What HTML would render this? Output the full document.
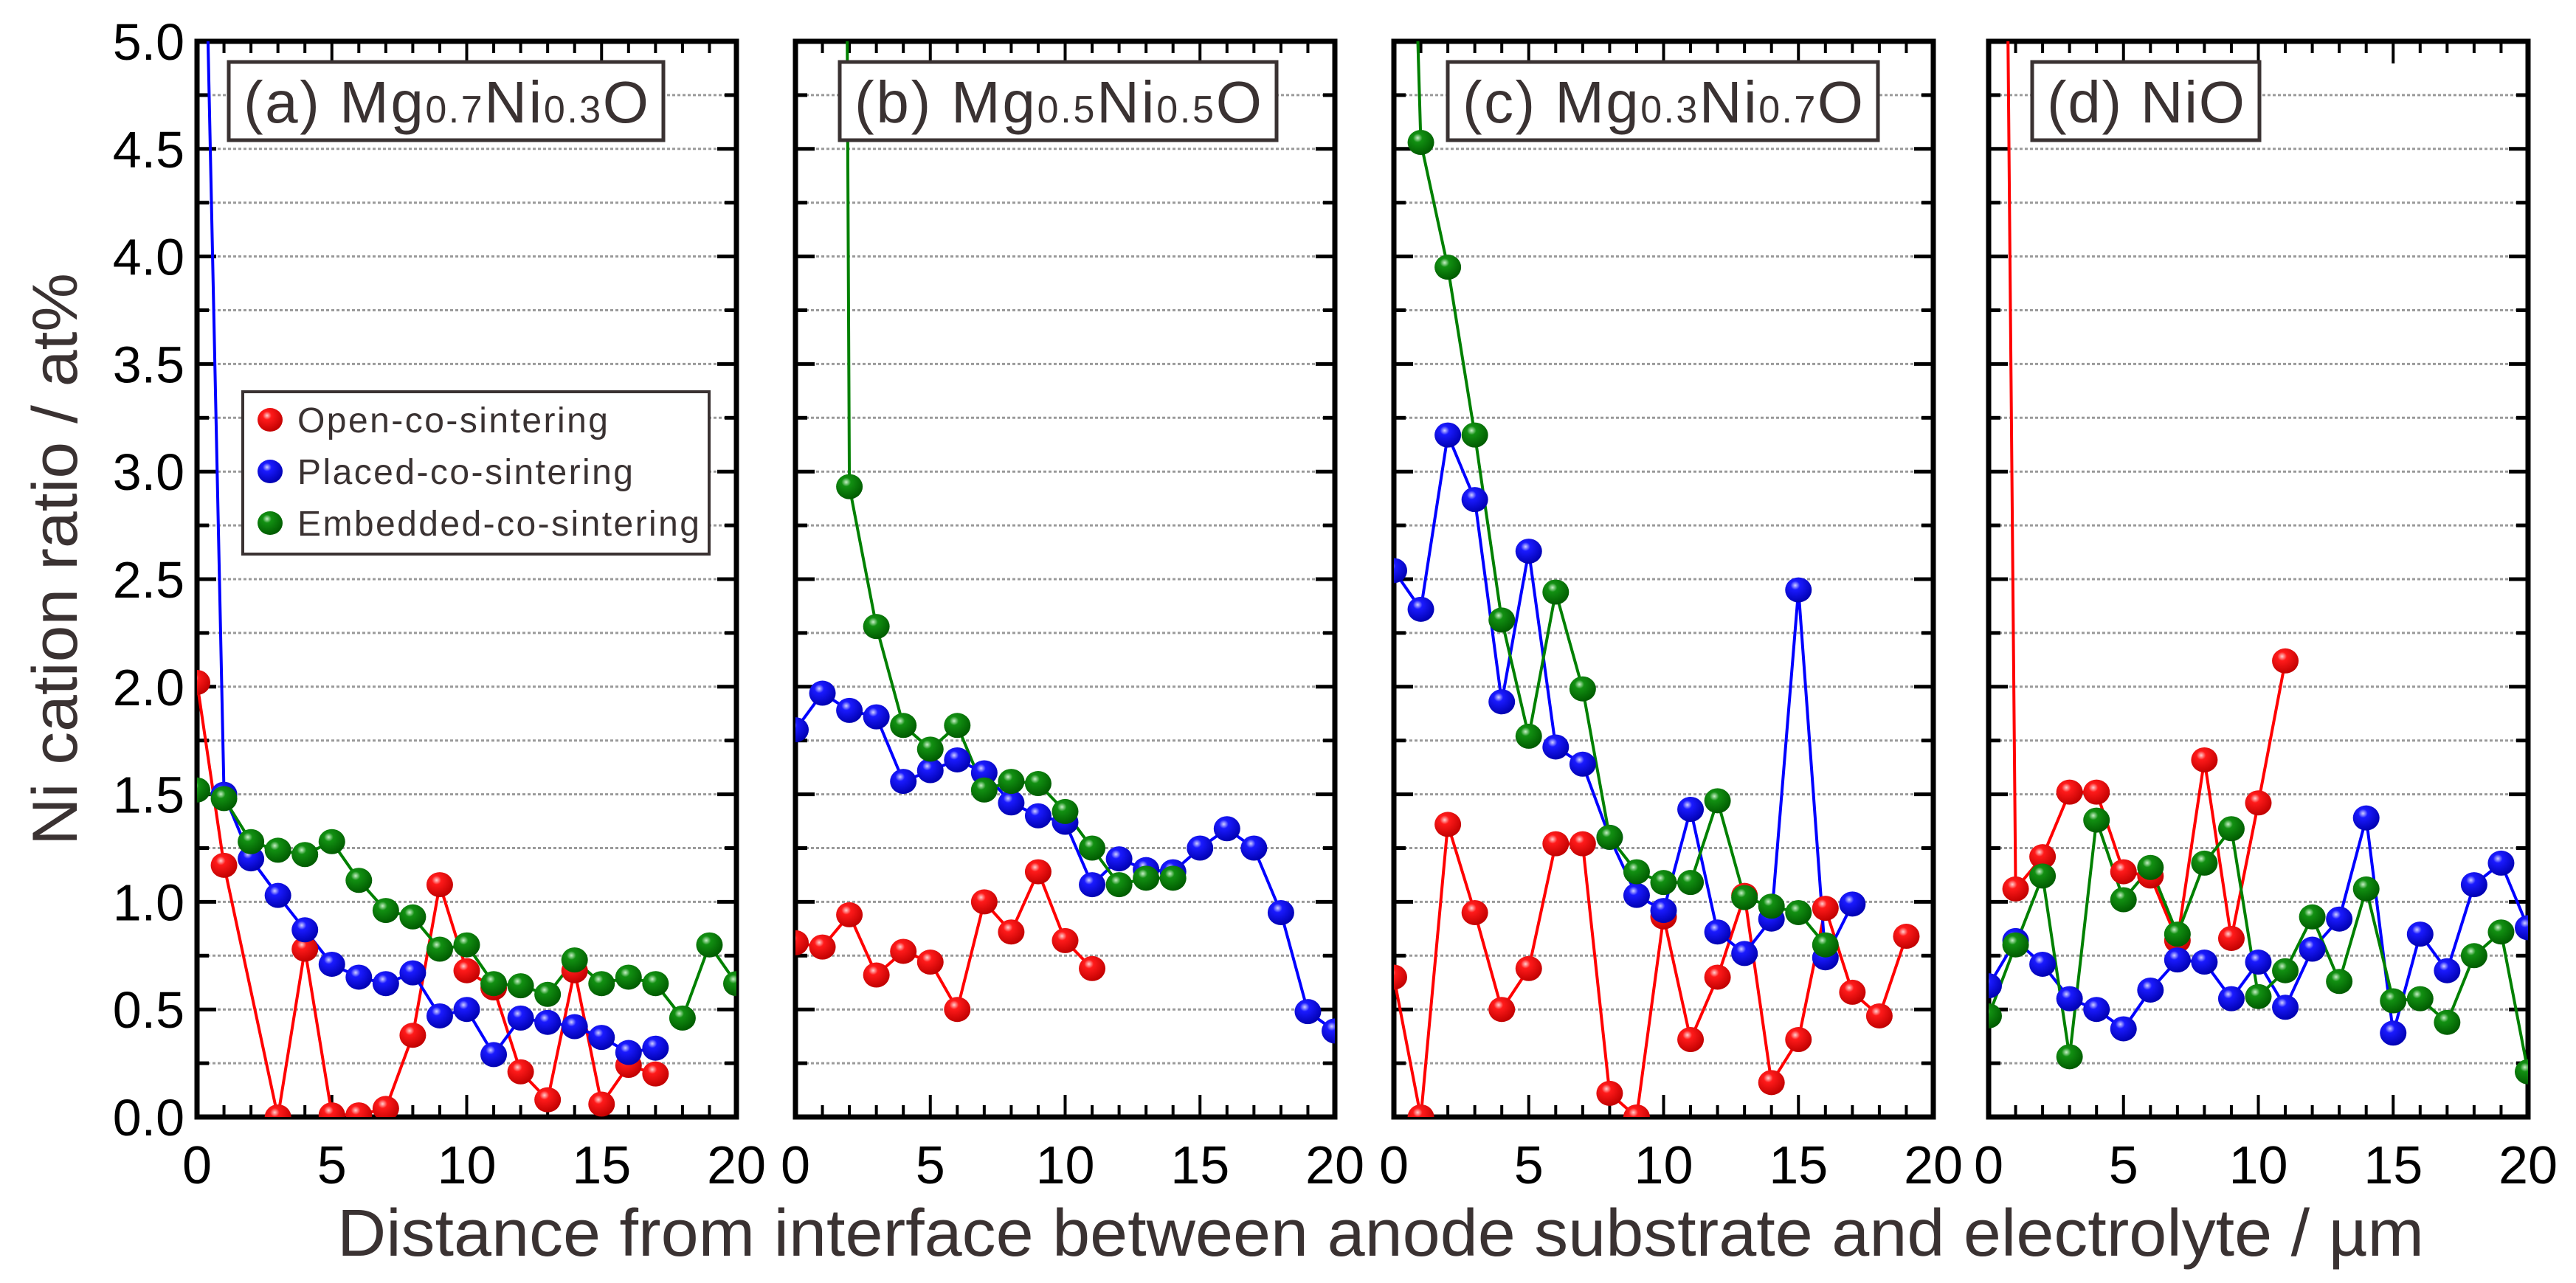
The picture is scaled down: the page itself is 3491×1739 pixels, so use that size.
<!DOCTYPE html>
<html><head><meta charset="utf-8"><style>
html,body{margin:0;padding:0;background:#fff;}
svg{display:block;font-family:"Liberation Sans",Arial,sans-serif;}
</style></head><body>
<svg id="chart" width="3491" height="1739" viewBox="0 0 3491 1739" xmlns="http://www.w3.org/2000/svg">
<defs>
<radialGradient id="gr" cx="0.38" cy="0.32" r="0.7"><stop offset="0" stop-color="#ffd0d0"/><stop offset="0.25" stop-color="#ff1a1a"/><stop offset="1" stop-color="#c00000"/></radialGradient>
<radialGradient id="gb" cx="0.38" cy="0.32" r="0.7"><stop offset="0" stop-color="#d0d0ff"/><stop offset="0.25" stop-color="#1a1aff"/><stop offset="1" stop-color="#0000b0"/></radialGradient>
<radialGradient id="gg" cx="0.38" cy="0.32" r="0.7"><stop offset="0" stop-color="#c8f0c8"/><stop offset="0.25" stop-color="#129012"/><stop offset="1" stop-color="#005a00"/></radialGradient>
</defs>
<g id="root"></g>
<text x="0" y="0" transform="translate(104,758) rotate(-90)" text-anchor="middle" font-size="86" fill="#3a3232" textLength="776" lengthAdjust="spacingAndGlyphs">Ni cation ratio / at%</text>
<text x="1871" y="1702" text-anchor="middle" font-size="90" fill="#3a3232" textLength="2828" lengthAdjust="spacingAndGlyphs">Distance from interface between anode substrate and electrolyte / µm</text>
</svg>
<script>
const xTicks = [0, 5, 10, 15, 20];
const yTickLabels = ["0.0","0.5","1.0","1.5","2.0","2.5","3.0","3.5","4.0","4.5","5.0"];
const seriesNames = ["Open-co-sintering","Placed-co-sintering","Embedded-co-sintering"];
const panelTitles = ["(a) Mg|0.7|Ni|0.3|O","(b) Mg|0.5|Ni|0.5|O","(c) Mg|0.3|Ni|0.7|O","(d) NiO"];
// values indexed by distance 0..20 (null = no point)
const aRed   = [2.02,1.17,null,0.0,0.78,0.01,0.01,0.04,0.38,1.08,0.68,0.60,0.21,0.08,0.68,0.06,0.24,0.20];
const aBlue  = [7.4,1.50,1.20,1.03,0.87,0.71,0.65,0.62,0.67,0.47,0.50,0.29,0.46,0.44,0.42,0.37,0.30,0.32];
const aGreen = [1.52,1.48,1.28,1.24,1.22,1.28,1.10,0.96,0.93,0.78,0.80,0.62,0.61,0.57,0.73,0.62,0.65,0.62,0.46,0.80,0.62];
const bRed   = [0.81,0.79,0.94,0.66,0.77,0.72,0.50,1.00,0.86,1.14,0.82,0.69];
const bBlue  = [1.80,1.97,1.89,1.86,1.56,1.61,1.66,1.60,1.46,1.40,1.37,1.08,1.20,1.15,1.14,1.25,1.34,1.25,0.95,0.49,0.40];
const bGreen = [null,29,2.93,2.28,1.82,1.71,1.82,1.52,1.56,1.55,1.42,1.25,1.08,1.11,1.11];
const cRed   = [0.65,0.0,1.36,0.95,0.50,0.69,1.27,1.27,0.11,0.0,0.93,0.36,0.65,1.03,0.16,0.36,0.97,0.58,0.47,0.84];
const cBlue  = [2.54,2.36,3.17,2.87,1.93,2.63,1.72,1.64,1.30,1.03,0.96,1.43,0.86,0.76,0.92,2.45,0.74,0.99];
const cGreen = [8.8,4.53,3.95,3.17,2.31,1.77,2.44,1.99,1.30,1.14,1.09,1.09,1.47,1.02,0.98,0.95,0.80];
const dRed   = [15,1.06,1.21,1.51,1.51,1.14,1.12,0.82,1.66,0.83,1.46,2.12];
const dBlue  = [0.61,0.82,0.71,0.55,0.50,0.41,0.59,0.73,0.72,0.55,0.72,0.51,0.78,0.92,1.39,0.39,0.85,0.68,1.08,1.18,0.88];
const dGreen = [0.47,0.80,1.12,0.28,1.38,1.01,1.16,0.85,1.18,1.34,0.56,0.68,0.93,0.63,1.06,0.54,0.55,0.44,0.75,0.86,0.21];
const panelData = [[aRed,aBlue,aGreen],[bRed,bBlue,bGreen],[cRed,cBlue,cGreen],[dRed,dBlue,dGreen]];

const NS = "http://www.w3.org/2000/svg";
const root = document.getElementById('root');
const panelLeft = [267, 1078, 1889, 2695];
const PW = 731, TOP = 56, BOT = 1514;
const colors = ["#ff0000","#0000ff","#008000"];
const grads = ["url(#gr)","url(#gb)","url(#gg)"];
const titleBoxes = [[310,589],[1138,592],[1962,583],[2754,308]];
const legendTextLen = [421,455,545];
function mk(tag, attrs, parent){const e=document.createElementNS(NS,tag);for(const k in attrs)e.setAttribute(k,attrs[k]);(parent||root).appendChild(e);return e;}
function yScale(v){return BOT - (v/5)*(BOT-TOP);}

panelData.forEach((series, p) => {
  const L = panelLeft[p];
  const xScale = v => L + (v/20)*PW;
  const g = mk('g', {});
  
  
  const cp = mk('clipPath', {id:'clip'+p}, g);
  mk('rect', {x:L, y:TOP, width:PW, height:BOT-TOP}, cp);
  for (let i=1;i<20;i++){
    const gl = mk('line',{x1:L,x2:L+PW,y1:yScale(i*0.25),y2:yScale(i*0.25),stroke:'#9a9a9a','stroke-width':3,'stroke-dasharray':'4 3'},g);
    
    
  }
  for (let i=0;i<=20;i++){
    const len = (i%2===0)?26:16, y=yScale(i*0.25);
    mk('line',{x1:L,x2:L+len,y1:y,y2:y,stroke:'#000','stroke-width':5},g);
    mk('line',{x1:L+PW-len,x2:L+PW,y1:y,y2:y,stroke:'#000','stroke-width':5},g);
  }
  for (let i=0;i<=20;i++){
    const len = (i%5===0)?30:16, x=xScale(i);
    mk('line',{x1:x,x2:x,y1:BOT,y2:BOT-len,stroke:'#000','stroke-width':4},g);
    mk('line',{x1:x,x2:x,y1:TOP,y2:TOP+len,stroke:'#000','stroke-width':4},g);
  }
  const frame = mk('rect',{x:L,y:TOP,width:PW,height:BOT-TOP,fill:'none',stroke:'#000','stroke-width':7},g);
  
  
  xTicks.forEach(t => {
    const tx = mk('text',{x:xScale(t),y:1604,'text-anchor':'middle','font-size':72,fill:'#000'},g);
    
    
    tx.textContent = t;
  });
  const dg = mk('g',{'clip-path':'url(#clip'+p+')'},g);
  series.forEach((vals, s) => {
    let d='';
    vals.forEach((v,i)=>{ if(v===null) return; d += (d?'L':'M') + xScale(i).toFixed(1)+','+yScale(v).toFixed(1); });
    const pl = mk('path',{d:d,fill:'none',stroke:colors[s],'stroke-width':4},dg);
    
    
  });
  series.forEach((vals, s) => {
    vals.forEach((v,i)=>{
      if(v===null || v>5.05) return;
      const c = mk('ellipse',{cx:xScale(i),cy:yScale(v),rx:18,ry:17,fill:grads[s]},dg);
      
      
    });
  });
  const tb = titleBoxes[p];
  const box = mk('rect',{x:tb[0],y:84,width:tb[1],height:106,fill:'#fff',stroke:'#3a3232','stroke-width':5},g);
  
  
  const tt = mk('text',{x:tb[0]+tb[1]/2,y:166,'text-anchor':'middle','font-size':80,fill:'#3a3232',textLength:tb[1]-40,lengthAdjust:'spacing'},g);
  
  
  panelTitles[p].split('|').forEach((part, k) => {
    const ts = mk('tspan', k%2===1 ? {'font-size':52} : {}, tt);
    ts.textContent = part;
  });
});

yTickLabels.forEach((lab, i) => {
  const t = mk('text',{x:250,y:yScale(i*0.5)+25,'text-anchor':'end','font-size':70,fill:'#000'});
  
  
  t.textContent = lab;
});

const lg = mk('g',{});


mk('rect',{x:329,y:531,width:632,height:220,fill:'#fff',stroke:'#3a3232','stroke-width':4},lg);
seriesNames.forEach((n, s) => {
  const y = 569 + s*70;
  const m = mk('ellipse',{cx:366,cy:y,rx:17,ry:16,fill:grads[s]},lg);
  
  
  const t = mk('text',{x:403,y:y+17,'font-size':48,fill:'#3a3232',textLength:legendTextLen[s],lengthAdjust:'spacing'},lg);
  
  
  t.textContent = n;
});
</script>
</body></html>
